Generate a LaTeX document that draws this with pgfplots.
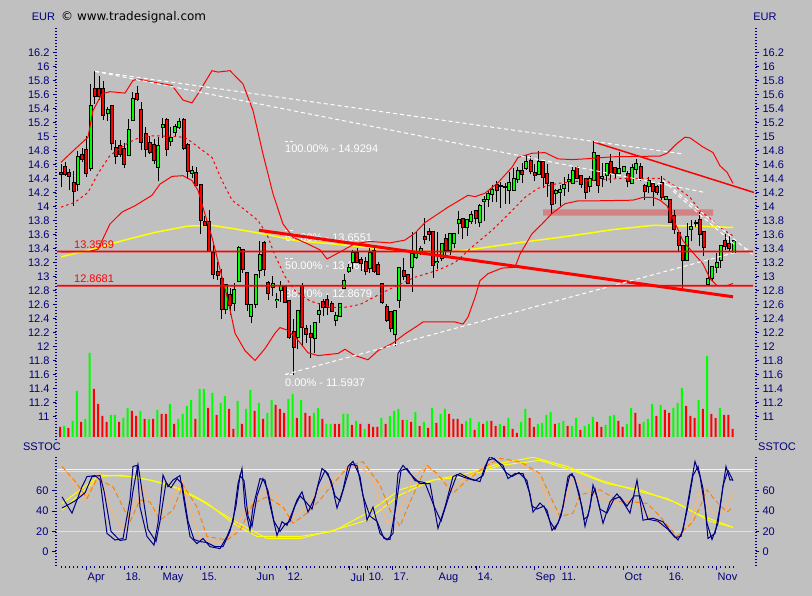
\documentclass[border=0pt]{standalone}
\usepackage{pgfplots}
\pgfplotsset{compat=1.18}
\usepackage{pgfplotstable}
\usepackage{fontspec}
\setmainfont{Liberation Sans}
\newfontfamily\dejavu{DejaVu Sans}
\definecolor{bg}{RGB}{192,192,192}
\definecolor{navy}{RGB}{0,0,128}
\definecolor{cred}{RGB}{255,0,0}
\definecolor{cgreen}{RGB}{0,255,0}
\definecolor{cyellow}{RGB}{255,255,0}
\definecolor{pyellow}{RGB}{255,255,160}
\definecolor{pinkbox}{RGB}{210,130,130}
\definecolor{peach}{RGB}{255,180,110}
\definecolor{orng}{RGB}{255,128,0}

\pgfplotstableread{
i O H L C
0 14.48 14.61 14.28 14.47
1 14.56 14.63 14.44 14.47
2 14.48 14.54 14.23 14.44
3 14.34 14.51 14.01 14.22
4 14.32 14.79 14.22 14.70
5 14.74 14.83 14.64 14.68
6 14.80 15.00 14.42 14.48
7 14.55 15.75 14.50 15.44
8 15.68 15.93 15.47 15.58
9 15.68 15.87 15.52 15.58
10 15.68 15.79 15.23 15.31
11 15.33 15.42 15.22 15.38
12 15.43 15.45 14.80 14.90
13 14.84 14.95 14.60 14.72
14 14.87 14.95 14.70 14.75
15 14.82 14.90 14.55 14.61
16 14.74 15.25 14.74 15.09
17 15.23 15.63 15.23 15.54
18 15.61 15.72 15.50 15.54
19 15.38 15.49 14.80 14.92
20 15.04 15.13 14.71 14.82
21 14.90 15.00 14.75 14.78
22 14.88 14.96 14.60 14.66
23 14.57 14.99 14.36 14.87
24 15.13 15.27 14.98 15.17
25 15.23 15.27 14.72 14.82
26 14.94 15.13 14.86 14.98
27 15.06 15.18 15.00 15.14
28 15.14 15.26 15.11 15.20
29 15.23 15.26 14.81 14.84
30 14.88 14.90 14.39 14.51
31 14.48 14.58 14.41 14.51
32 14.48 14.56 14.29 14.30
33 14.30 14.30 13.60 13.81
34 13.78 13.87 13.72 13.74
35 13.78 13.95 13.37 13.37
36 13.33 13.45 12.96 13.04
37 13.07 13.20 12.95 13.02
38 12.97 13.10 12.39 12.54
39 12.54 12.88 12.46 12.88
40 12.74 12.84 12.45 12.59
41 12.62 12.91 12.50 12.80
42 12.94 13.44 12.94 13.40
43 13.38 13.38 13.05 13.11
44 13.05 13.05 12.51 12.61
45 12.44 12.59 12.33 12.59
46 12.61 13.02 12.55 13.02
47 13.09 13.51 12.98 13.31
48 13.48 13.51 13.00 13.11
49 12.90 12.94 12.67 12.77
50 12.85 13.00 12.72 12.89
51 12.66 12.77 12.55 12.67
52 12.80 12.94 12.64 12.86
53 12.85 12.85 12.63 12.63
54 12.65 12.65 12.10 12.13
55 12.20 12.39 11.59 11.99
56 12.13 12.51 11.97 12.51
57 12.86 12.90 12.00 12.28
58 12.25 12.30 12.05 12.18
59 12.18 12.30 11.84 12.14
60 12.12 12.34 11.91 12.34
61 12.47 12.62 12.34 12.50
62 12.63 12.68 12.44 12.56
63 12.67 12.73 12.45 12.56
64 12.61 12.65 12.49 12.51
65 12.38 12.49 12.29 12.43
66 12.43 12.62 12.43 12.61
67 12.83 13.03 12.83 12.94
68 13.08 13.18 13.05 13.12
69 13.20 13.38 13.11 13.33
70 13.33 13.40 13.20 13.21
71 13.24 13.28 13.08 13.19
72 13.21 13.28 13.02 13.08
73 13.12 13.40 13.05 13.33
74 13.37 13.42 13.05 13.08
75 13.17 13.20 13.02 13.04
76 12.89 12.89 12.60 12.63
77 12.56 12.60 12.35 12.38
78 12.49 12.49 12.20 12.26
79 12.18 12.50 12.00 12.50
80 12.66 13.12 12.55 13.12
81 13.08 13.27 12.95 13.00
82 13.02 13.02 12.90 12.90
83 13.13 13.63 12.78 13.32
84 13.28 13.64 13.25 13.33
85 13.36 13.43 13.30 13.39
86 13.57 13.83 13.46 13.53
87 13.63 13.69 13.50 13.60
88 13.64 13.64 12.98 13.17
89 13.20 13.63 13.10 13.21
90 13.27 13.46 13.22 13.46
91 13.54 13.60 13.30 13.38
92 13.38 13.61 13.30 13.61
93 13.48 13.61 13.40 13.61
94 13.76 13.94 13.60 13.80
95 13.82 13.82 13.53 13.71
96 13.70 13.81 13.58 13.81
97 13.79 13.94 13.75 13.88
98 13.93 13.95 13.75 13.84
99 13.78 14.03 13.70 14.01
100 14.08 14.15 13.79 14.09
101 14.11 14.24 13.99 14.18
102 14.18 14.30 14.07 14.23
103 14.30 14.36 14.06 14.23
104 14.29 14.35 13.98 14.29
105 14.28 14.34 14.04 14.28
106 14.24 14.49 14.03 14.34
107 14.24 14.55 14.24 14.39
108 14.39 14.56 14.34 14.50
109 14.50 14.62 14.34 14.47
110 14.55 14.73 14.52 14.64
111 14.65 14.72 14.47 14.51
112 14.48 14.60 14.36 14.45
113 14.46 14.79 14.46 14.64
114 14.63 14.66 14.27 14.42
115 14.47 14.60 14.14 14.34
116 14.34 14.34 13.89 14.03
117 14.19 14.25 14.04 14.22
118 14.20 14.30 14.00 14.24
119 14.26 14.42 14.15 14.31
120 14.37 14.46 14.20 14.38
121 14.33 14.56 14.33 14.51
122 14.55 14.58 14.41 14.41
123 14.43 14.43 14.27 14.32
124 14.39 14.39 14.10 14.20
125 14.29 14.44 14.20 14.39
126 14.38 14.93 14.36 14.76
127 14.72 14.72 14.19 14.31
128 14.41 14.62 14.28 14.42
129 14.45 14.60 14.36 14.60
130 14.64 14.75 14.33 14.48
131 14.55 14.55 14.41 14.48
132 14.48 14.78 14.46 14.54
133 14.51 14.56 14.50 14.56
134 14.46 14.50 14.28 14.36
135 14.34 14.60 14.34 14.55
136 14.54 14.68 14.46 14.61
137 14.57 14.62 14.37 14.41
138 14.29 14.32 14.09 14.22
139 14.29 14.42 14.19 14.36
140 14.32 14.32 14.00 14.22
141 14.28 14.30 14.17 14.20
142 14.34 14.44 14.09 14.13
143 14.11 14.14 14.10 14.14
144 14.09 14.09 13.77 13.78
145 13.87 13.95 13.61 13.68
146 13.62 13.62 13.35 13.45
147 13.43 13.45 12.82 13.24
148 13.24 13.77 13.24 13.57
149 13.68 13.81 13.50 13.71
150 13.76 13.80 13.70 13.76
151 13.81 13.92 13.43 13.60
152 13.64 13.64 13.29 13.42
153 12.89 13.23 12.89 12.96
154 12.98 13.13 12.93 13.13
155 13.14 13.33 13.05 13.19
156 13.24 13.44 13.12 13.44
157 13.50 13.60 13.38 13.44
158 13.47 13.58 13.35 13.40
159 13.35 13.52 13.35 13.50
}\candles

\pgfplotstableread{
i V g
0 10 0
1 11 1
2 9 0
3 16 1
4 46 1
5 15 0
6 18 1
7 84 1
8 48 0
9 33 0
10 21 0
11 15 0
12 22 1
13 22 1
14 15 0
15 19 1
16 29 1
17 26 0
18 21 0
19 26 1
20 18 0
21 18 1
22 18 0
23 27 1
24 23 0
25 23 0
26 33 1
27 13 0
28 18 1
29 23 1
30 31 1
31 37 1
32 18 0
33 48 1
34 48 1
35 29 0
36 44 1
37 22 0
38 34 1
39 41 1
40 28 0
41 8 0
42 36 1
43 13 0
44 28 1
45 47 1
46 26 0
47 34 1
48 18 0
49 24 1
50 37 1
51 32 0
52 28 0
53 24 0
54 38 1
55 43 1
56 19 0
57 37 1
58 24 0
59 21 0
60 24 1
61 29 1
62 18 0
63 13 1
64 13 1
65 13 0
66 13 0
67 23 1
68 23 1
69 12 0
70 16 1
71 13 0
72 8 1
73 13 0
74 10 0
75 10 0
76 19 1
77 13 0
78 21 1
79 26 1
80 28 1
81 17 0
82 17 1
83 15 0
84 25 1
85 11 0
86 15 1
87 9 0
88 29 1
89 14 0
90 23 1
91 28 1
92 23 0
93 18 0
94 18 0
95 13 0
96 16 1
97 19 1
98 7 0
99 15 1
100 13 0
101 16 1
102 16 0
103 11 0
104 13 1
105 11 0
106 19 1
107 8 0
108 4 0
109 15 1
110 28 1
111 19 0
112 10 0
113 13 1
114 14 1
115 22 1
116 25 1
117 13 0
118 14 1
119 16 1
120 11 0
121 11 1
122 19 1
123 7 0
124 11 1
125 13 1
126 20 1
127 15 0
128 10 0
129 12 1
130 21 1
131 22 1
132 16 0
133 10 0
134 13 1
135 29 1
136 24 0
137 13 0
138 15 1
139 18 1
140 33 1
141 21 0
142 32 1
143 27 0
144 24 0
145 29 1
146 34 1
147 49 1
148 31 0
149 21 0
150 19 0
151 37 1
152 28 0
153 81 1
154 23 0
155 19 0
156 29 1
157 22 0
158 22 0
159 8 0
}\vol

\tikzset{
  fibtext/.style={anchor=north west, inner sep=0pt, text=white, font=\fontsize{11bp}{13bp}\selectfont, yshift=-3.5bp},
  redlab/.style={anchor=base west, inner sep=0pt, text=cred, font=\fontsize{11bp}{13bp}\selectfont, yshift=3bp},
}
\pgfplotsset{
  panel/.style={
    scale only axis, width=700bp, xmin=56, xmax=756,
    /pgf/number format/assume math mode=true,
    tick label style={font=\fontsize{11bp}{13bp}\selectfont, text=navy},
    tick style={navy, line width=1bp},
    ytick align=outside, xtick align=outside,
    major tick length=3bp, minor tick length=2bp,
    y axis line style={navy, line width=2bp, dash pattern=on 1bp off 2bp},
    x axis line style={draw=none},
  },
  upper/.style={panel, at={(56bp,156bp)}, anchor=south west, height=413bp,
    ymin=10.664, ymax=16.564,
    ytick={11,11.2,11.4,11.6,11.8,12,12.2,12.4,12.6,12.8,13,13.2,13.4,13.6,13.8,14,14.2,14.4,14.6,14.8,15,15.2,15.4,15.6,15.8,16,16.2},
    yticklabel style={/pgf/number format/.cd, fixed, precision=1},
  },
  lower/.style={panel, at={(56bp,30bp)}, anchor=south west, height=109bp,
    ymin=-14.1, ymax=93.3, ytick={0,20,40,60},
  },
  wick/.style={draw=none, mark=none, forget plot},
}

\begin{document}
\begin{tikzpicture}
\path[use as bounding box] (0,0) rectangle (812bp,596bp);
\fill[bg] (0,0) rectangle (812bp,596bp);

% header texts
\node[text=navy, font=\fontsize{11bp}{13bp}\selectfont] at (43.5bp,579bp) {EUR};
\node[text=black, font=\dejavu\fontsize{12bp}{14bp}\selectfont, anchor=west, inner sep=0pt] at (61bp,579bp) {© www.tradesignal.com};
\node[text=navy, font=\fontsize{11bp}{13bp}\selectfont] at (765bp,579bp) {EUR};
\node[text=navy, font=\fontsize{11bp}{13bp}\selectfont] at (42bp,149bp) {SSTOC};
\node[text=navy, font=\fontsize{11bp}{13bp}\selectfont] at (777bp,149bp) {SSTOC};

% volume
\begin{axis}[panel, at={(56bp,156bp)}, anchor=south west, height=413bp, ymin=-3, ymax=410, hide axis]
\addplot[ybar, bar width=2bp, bar shift=0pt, fill=cgreen, draw=none,
  restrict expr to domain={\thisrow{g}}{0.5:1.5}] table[x expr=60+4.23*\thisrow{i}, y=V] {\vol};
\addplot[ybar, bar width=2bp, bar shift=0pt, fill=cred, draw=none,
  restrict expr to domain={\thisrow{g}}{-0.5:0.5}] table[x expr=60+4.23*\thisrow{i}, y=V] {\vol};
\end{axis}

% right labels upper
\begin{axis}[upper, axis y line*=right, axis x line=none]
\addplot[draw=none] coordinates {(100,13)};
\end{axis}

% main price panel
\begin{axis}[upper, axis y line*=left, axis x line*=bottom, xtick=\empty]
% pink zone
\addplot[fill=pinkbox, draw=none] coordinates {(543,13.87) (713,13.87) (713,13.96) (543,13.96) (543,13.87)};
% fibonacci texts
\node[fibtext] at (axis cs:285,14.9294) {100.00\% - 14.9294};
\node[fibtext] at (axis cs:285,13.6551) {61.80\% - 13.6551};
\node[fibtext] at (axis cs:285,13.2615) {50.00\% - 13.2615};
\node[fibtext] at (axis cs:285,12.8679) {38.20\% - 12.8679};
\node[fibtext] at (axis cs:285,11.5937) {0.00\% - 11.5937};
\addplot[white, line width=1bp, dash pattern=on 3bp off 2bp] coordinates {(285,14.9294) (294,14.9294)};
\addplot[white, line width=1bp, dash pattern=on 3bp off 2bp] coordinates {(285,13.6551) (294,13.6551)};
\addplot[white, line width=1bp, dash pattern=on 3bp off 2bp] coordinates {(285,13.2615) (294,13.2615)};
\addplot[white, line width=1bp, dash pattern=on 3bp off 2bp] coordinates {(285,12.8679) (294,12.8679)};
\addplot[white, line width=1bp, dash pattern=on 3bp off 2bp] coordinates {(285,11.5937) (294,11.5937)};

% yellow long average
\addplot[cyellow, line width=1.5bp] coordinates {(61,13.28) (95,13.40) (122,13.51) (155,13.63) (188,13.72) (212,13.73) (235,13.68) (263,13.61) (297,13.51) (330,13.47) (363,13.42) (405,13.36) (458,13.36) (488,13.42) (522,13.49) (555,13.55) (585,13.61) (613,13.67) (653,13.73) (700,13.72) (713,13.71) (733,13.70)};

% candles: wicks
\addplot[wick, error bars/.cd, y dir=plus, y explicit, error mark=none,
  error bar style={draw=black, line width=1bp}]
  table[x expr=61+4.23*\thisrow{i}, y=L, y error expr=\thisrow{H}-\thisrow{L}] {\candles};
% bodies outline
\addplot[wick, error bars/.cd, y dir=plus, y explicit, error mark=none,
  error bar style={draw=black, line width=4bp}]
  table[x expr=61+4.23*\thisrow{i}, y expr={min(\thisrow{O},\thisrow{C})-0.0143}, y error expr={abs(\thisrow{C}-\thisrow{O})+0.0286}] {\candles};
% green bodies
\addplot[wick, restrict expr to domain={\thisrow{C}-\thisrow{O}}{0:100},
  error bars/.cd, y dir=plus, y explicit, error mark=none,
  error bar style={draw=cgreen, line width=2bp}]
  table[x expr=61+4.23*\thisrow{i}, y=O, y error expr=\thisrow{C}-\thisrow{O}] {\candles};
% red bodies
\addplot[wick, restrict expr to domain={\thisrow{C}-\thisrow{O}}{-100:-0.0001},
  error bars/.cd, y dir=plus, y explicit, error mark=none,
  error bar style={draw=cred, line width=2bp}]
  table[x expr=61+4.23*\thisrow{i}, y=C, y error expr=\thisrow{O}-\thisrow{C}] {\candles};

% bollinger upper
\addplot[cred, line width=1bp] coordinates {(61,14.63) (75,14.82) (88,14.99) (93,15.37) (102,15.61) (110,15.64) (125,15.62) (133,15.80) (138,15.82) (152,15.78) (172,15.73) (183,15.52) (192,15.48) (198,15.61) (212,15.94) (218,15.92) (230,15.94) (243,15.75) (253,15.37) (263,14.75) (273,14.18) (283,13.75) (293,13.56) (307,13.47) (320,13.38) (327,13.25) (340,13.35) (355,13.47) (370,13.50) (390,13.48) (405,13.52) (415,13.62) (425,13.77) (448,13.99) (468,14.16) (475,14.14) (485,14.19) (498,14.34) (512,14.56) (518,14.70) (532,14.76) (545,14.77) (558,14.68) (572,14.67) (585,14.68) (613,14.71) (660,14.72) (667,14.76) (677,14.90) (685,14.99) (690,14.98) (703,14.85) (713,14.77) (720,14.58) (727,14.49) (733,14.33)};
% bollinger middle
\addplot[cred, line width=1bp, dash pattern=on 2.5bp off 3bp] coordinates {(61,13.99) (75,14.06) (88,14.20) (98,14.47) (110,14.73) (127,14.90) (137,14.97) (152,15.01) (178,15.00) (187,14.97) (198,14.85) (212,14.70) (222,14.37) (232,14.09) (245,13.95) (258,13.80) (267,13.60) (275,13.30) (285,13.00) (295,12.80) (310,12.65) (330,12.56) (345,12.56) (360,12.60) (387,12.80) (403,12.91) (415,12.99) (438,13.09) (455,13.20) (472,13.42) (492,13.66) (505,13.84) (525,14.13) (538,14.26) (558,14.33) (585,14.37) (620,14.40) (663,14.40) (677,14.27) (690,14.13) (700,13.94) (710,13.83) (720,13.70) (733,13.58)};
% bollinger lower
\addplot[cred, line width=1bp] coordinates {(61,13.35) (90,13.36) (98,13.39) (110,13.75) (122,13.92) (135,14.01) (152,14.16) (160,14.32) (172,14.43) (183,14.44) (192,14.37) (198,14.23) (205,13.89) (212,13.56) (222,12.99) (228,12.66) (235,12.19) (245,11.94) (255,11.80) (265,11.97) (275,12.19) (280,12.27) (288,12.23) (298,12.09) (308,11.91) (318,11.87) (338,11.90) (345,11.96) (355,11.87) (368,11.81) (378,11.94) (392,12.04) (405,12.18) (418,12.30) (423,12.35) (455,12.35) (463,12.32) (468,12.42) (475,12.70) (480,12.94) (488,13.04) (502,13.12) (515,13.13) (520,13.32) (532,13.61) (542,13.75) (552,13.90) (565,14.04) (578,14.08) (593,14.08) (633,14.09) (643,14.13) (653,14.13) (660,14.09) (667,14.01) (677,13.70) (683,13.51) (693,13.34) (703,13.18) (710,12.97) (717,12.87) (727,12.87) (733,12.90)};

% trend lines
\addplot[cred, line width=3bp] coordinates {(259,13.66) (733,12.71)};
\addplot[cred, line width=1.5bp] coordinates {(594,14.92) (754,14.20)};

% white dashed lines
\addplot[white, line width=1bp, dash pattern=on 4bp off 3bp] coordinates {(95,15.93) (683,14.75)};
\addplot[white, line width=1bp, dash pattern=on 4bp off 3bp] coordinates {(95,15.93) (705,14.20)};
\addplot[white, line width=1bp, dash pattern=on 4bp off 3bp] coordinates {(285,11.60) (750,13.40)};
\addplot[white, line width=1bp, dash pattern=on 4bp off 3bp] coordinates {(663,14.37) (753,13.31)};
\addplot[white, line width=1bp, dash pattern=on 4bp off 3bp] coordinates {(673,14.22) (735,13.45)};

% horizontal support lines as thin filled bands
\addplot[fill=cred, draw=none] coordinates {(57,13.3455) (753,13.3455) (753,13.3683) (57,13.3683) (57,13.3455)};
\addplot[fill=cred, draw=none] coordinates {(57,12.8567) (753,12.8567) (753,12.8795) (57,12.8795) (57,12.8567)};
\node[redlab] at (axis cs:74,13.3569) {13.3569};
\node[redlab] at (axis cs:74,12.8681) {12.8681};
\end{axis}

% right labels lower
\begin{axis}[lower, axis y line*=right, axis x line=none]
\addplot[draw=none] coordinates {(100,10)};
\end{axis}

% stochastic panel
\begin{axis}[lower, axis y line*=left, axis x line*=bottom,
  xtick={86,124,161,200,255,286,349,367,392,437,476,534,560,623,667,716},
  xticklabels={Apr,18.,May,15.,Jun,12.,Jul,10.,17.,Aug,14.,Sep,11.,Oct,16.,Nov},
  minor xtick={61,65.23,...,735},
  xtick style={navy, line width=1bp},
  major tick length=4bp,
  xticklabel style={anchor=north west, inner sep=0pt, yshift=-3bp, xshift=1.5bp},
]
\addplot[pyellow, line width=1bp] coordinates {(57,81) (753,81)};
\addplot[cyellow, line width=1bp] coordinates {(57,79) (753,79)};
\addplot[cyellow, line width=1bp] coordinates {(57,20) (753,20)};
% yellow slow lines
\addplot[cyellow, line width=1bp] coordinates {(62,41) (100,74) (120,75.5) (150,70.6) (183,61) (207,48) (233,28) (257,15) (300,15) (333,20) (367,38) (400,61) (433,70.6) (467,77) (500,87) (533,93) (567,84) (600,70.6) (633,61) (667,52.5) (700,36) (733,24)};
\addplot[cyellow, line width=1bp] coordinates {(62,47.6) (100,75.5) (133,74) (167,67) (200,51) (233,31) (267,13) (300,13) (333,21) (367,31) (400,56) (433,70.6) (467,74) (500,85) (540,90) (573,80) (607,67) (640,61) (677,48) (710,30) (733,24)};
% peach line
\addplot[peach, line width=1bp] coordinates {(62,85) (72,70.6) (83,51) (100,77) (110,44) (123,21) (133,44) (143,64) (157,34.5) (167,44) (182,70.6) (190,44) (200,13) (220,8) (233,18) (247,44) (267,61) (277,54) (290,31) (303,41) (320,61) (333,70.6) (347,82) (360,85) (373,70.6) (387,28) (400,41) (413,74) (427,84) (440,74) (450,61) (467,74) (487,84) (500,92) (520,87) (537,77) (550,44) (560,34.5) (573,74) (587,61) (600,54) (613,48) (633,51) (647,38) (660,28) (677,13) (690,28) (700,61) (713,38) (723,38) (733,57)};
% orange dashed line
\addplot[orng, line width=1bp, dash pattern=on 5bp off 3bp] coordinates {(62,84) (77,67) (87,52.5) (97,72) (113,64) (123,44) (130,29.5) (140,51) (150,49) (160,31) (173,41) (183,65.7) (197,44) (207,15) (227,11.5) (240,21) (253,47.6) (267,54) (283,44) (293,28) (307,38) (320,51) (333,67) (350,85) (363,88.7) (380,65.7) (390,41) (400,25) (410,49) (427,85) (437,77) (453,57.5) (467,70.6) (487,85) (500,92) (520,88.7) (540,77) (553,49) (560,34.5) (573,38) (580,56) (600,61) (620,49) (633,49) (647,47.6) (657,38) (677,15) (693,29.5) (700,44) (707,61) (715,51) (727,39) (733,44)};
% navy fast lines
\addplot[navy, line width=1bp] coordinates {(62,43) (75,50) (85,58) (92,74) (100,75) (104,60) (111,20) (120,11) (126,12) (133,60) (138,86) (142,60) (148,22) (156,10) (160,30) (166,68) (171,63) (177,72) (182,67) (188,30) (194,12) (200,10) (207,9) (215,5) (223,5) (230,20) (236,45) (240,75) (244,70) (248,35) (252,25) (257,55) (263,72) (268,60) (274,30) (280,20) (285,27) (290,30) (295,45) (300,55) (305,50) (312,42) (318,65) (325,80) (331,70) (335,55) (340,50) (346,70) (351,86) (357,85) (363,55) (370,35) (377,30) (384,13) (390,12) (396,45) (401,80) (407,82) (415,70) (425,68) (434,45) (441,30) (449,55) (457,76) (465,73) (475,70) (483,75) (488,90) (494,92) (500,86) (506,78) (512,74) (519,78) (527,70) (532,45) (537,42) (544,45) (550,30) (555,22) (561,35) (566,60) (570,76) (574,74) (579,58) (584,32) (588,35) (592,55) (595,62) (600,42) (607,38) (614,52) (620,54) (627,45) (634,55) (640,55) (648,32) (658,30) (668,22) (675,14) (681,15) (687,40) (693,75) (698,84) (703,62) (707,28) (712,12) (718,28) (723,65) (728,80) (733,70)};
\addplot[navy, line width=1bp] coordinates {(62,54) (72,38) (82,64) (87,74) (95,75) (100,71) (107,18) (115,11.5) (123,13) (130,51) (133,84) (137,85) (140,44) (147,15) (154,6.5) (158,28) (163,75.5) (168,64) (173,70.6) (180,75) (185,44) (190,15) (197,8) (203,13) (210,5) (220,3) (227,15) (233,29.5) (238,67) (242,82) (245,44) (250,21) (253,44) (260,72) (265,70.6) (270,46) (277,16) (282,29.5) (287,26) (292,38) (297,51) (302,59) (308,39) (315,54) (322,82) (328,77) (333,61) (337,43) (343,61) (348,84) (353,89) (360,74) (367,31) (373,44) (380,18) (387,11.5) (393,18) (398,77) (403,85) (410,77) (420,67) (430,67) (438,23) (445,44) (453,74) (460,77) (470,72) (480,69) (485,84) (490,94) (497,89) (503,85) (508,72) (515,77) (523,77) (530,57) (533,39) (540,48) (547,41) (552,21) (558,28) (563,44) (568,74) (572,77) (575,70.6) (582,44) (585,25) (590,44) (593,65.7) (597,54) (603,28) (610,49) (617,57) (623,49) (630,38) (637,70.6) (643,31) (653,33) (663,29.5) (672,18) (678,11.5) (683,21) (690,61) (695,89) (700,74) (705,44) (708,13) (715,18) (720,44) (726,84) (730,70.6) (733,71)};
\end{axis}
\end{tikzpicture}
\end{document}
